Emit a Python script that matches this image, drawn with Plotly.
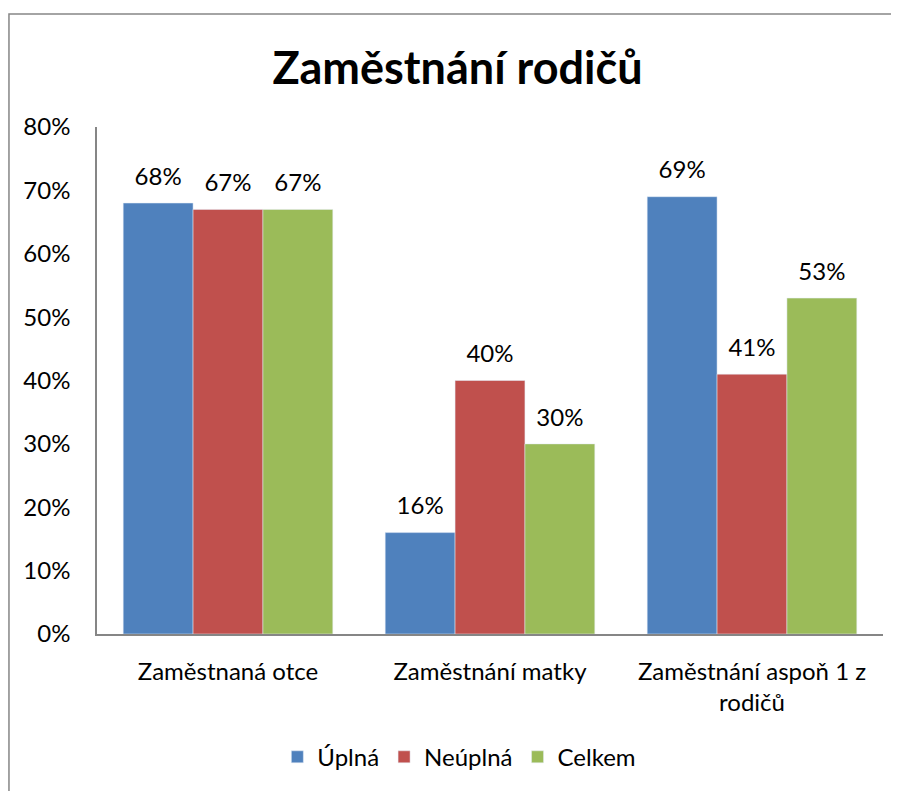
import plotly.graph_objects as go

categories = ["Zaměstnaná otce", "Zaměstnání matky", "Zaměstnání aspoň 1 z<br>rodičů"]
series_names = ["Úplná", "Neúplná", "Celkem"]
uplna = [0.68, 0.16, 0.69]
neuplna = [0.67, 0.40, 0.41]
celkem = [0.67, 0.30, 0.53]
colors = ["#4F81BD", "#C0504D", "#9BBB59"]

FONT = "Lato, 'Open Sans', sans-serif"

fig = go.Figure()
for name, vals, col in zip(series_names, [uplna, neuplna, celkem], colors):
    fig.add_trace(go.Bar(x=categories, y=vals, name=name, marker_color=col,
                         offsetgroup=name, hoverinfo="skip"))
    # value labels, lifted a bit above the bar top
    fig.add_trace(go.Scatter(x=categories, y=vals, mode="markers+text",
                             offsetgroup=name, showlegend=False,
                             marker=dict(size=18, opacity=0),
                             text=[f"{v:.0%}" for v in vals],
                             textposition="top center",
                             textfont=dict(size=24, color="black", family=FONT),
                             hoverinfo="skip"))

# page has an 8px body margin, so the figure is offset by 8px
fig.update_layout(
    width=899, height=791,
    barmode="group", bargap=0.2, bargroupgap=0,
    scattermode="group", scattergap=0.2,
    plot_bgcolor="white", paper_bgcolor="white",
    font=dict(family=FONT, size=24, color="black"),
    margin=dict(l=89, r=24, t=119, b=165),
    title=dict(text="<b>Zaměstnání rodičů</b>", x=0.5, xanchor="center",
               y=0.924, yanchor="middle", font=dict(size=45, color="black")),
    legend=dict(orientation="h", x=0.461, xanchor="center", y=-0.243,
                yanchor="middle", font=dict(size=24), itemwidth=30,
                traceorder="normal"),
    showlegend=True,
)
fig.update_yaxes(range=[0, 0.8], dtick=0.1, tickformat=".0%", showgrid=False,
                 showline=True, linecolor="#868686", linewidth=1.5,
                 ticks="outside", ticklen=20, tickcolor="rgba(0,0,0,0)",
                 zeroline=False, tickfont=dict(size=24))
fig.update_xaxes(showline=True, linecolor="#868686", linewidth=1.5,
                 ticks="outside", ticklen=15, tickcolor="rgba(0,0,0,0)",
                 showgrid=False, tickfont=dict(size=24))

fig.add_shape(type="rect", xref="paper", yref="paper",
              x0=-0.112, y0=-0.5, x1=1.2, y1=1.223,
              line=dict(color="#868686", width=1.5), layer="below")

fig.write_html("out.html")
